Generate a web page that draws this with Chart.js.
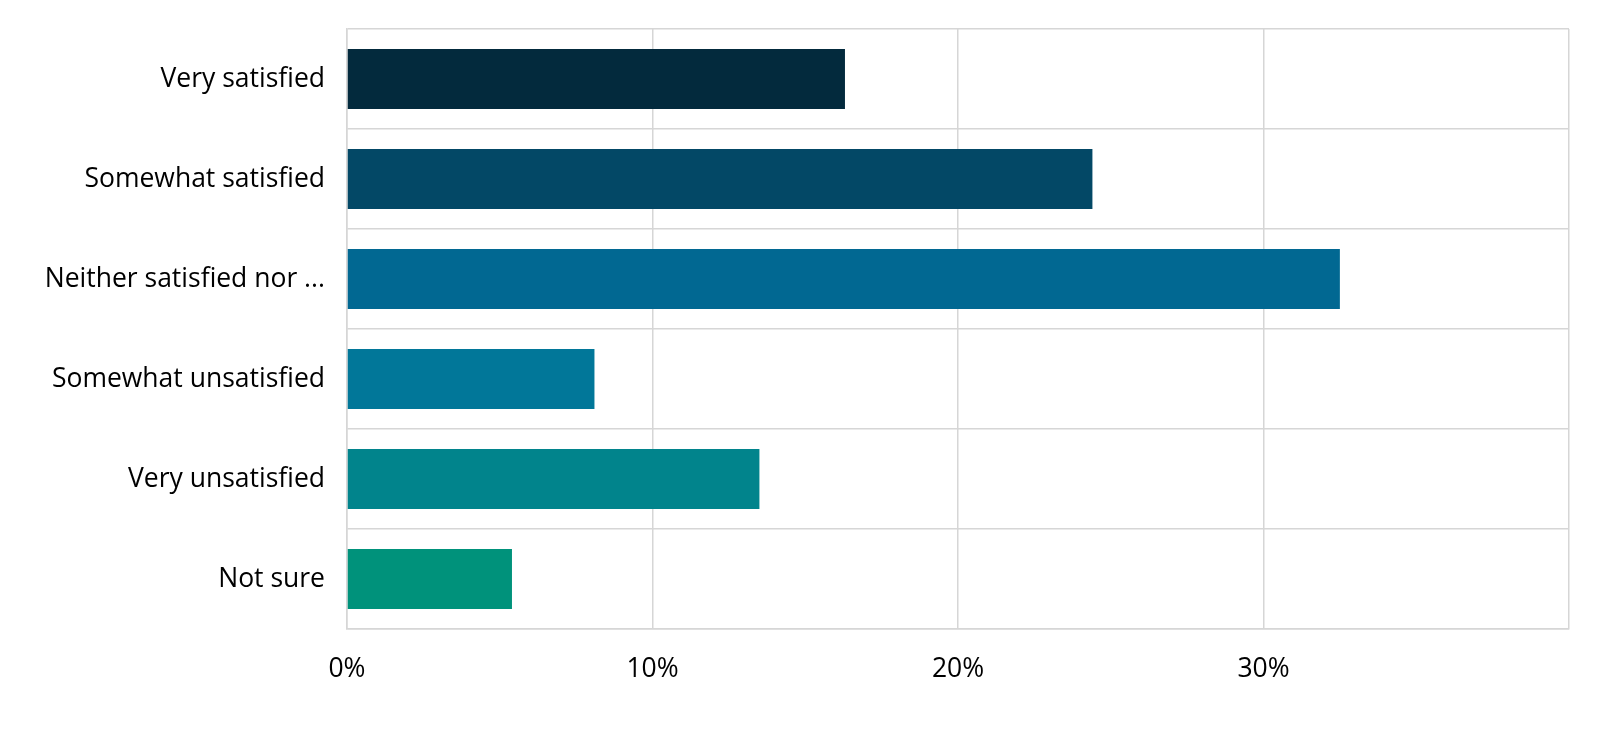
<!DOCTYPE html>
<html>
<head>
<meta charset="utf-8">
<script src="https://cdn.jsdelivr.net/npm/chart.js@4/dist/chart.umd.min.js"></script>
<style>
  html, body { margin: 0; padding: 0; background: #ffffff; }
  #wrap { width: 1600px; height: 738px; position: relative; }
</style>
</head>
<body>
<div id="wrap"><canvas id="c"></canvas></div>
<script>
const categories = ["Very satisfied", "Somewhat satisfied", "Neither satisfied nor ...", "Somewhat unsatisfied", "Very unsatisfied", "Not sure"];
const values = [16.3, 24.4, 32.5, 8.1, 13.5, 5.4];
const barColors = ["#032a3d", "#034866", "#016892", "#017799", "#01848c", "#00927b"];
const xTicks = [0, 10, 20, 30];
const xMax = 40;

const FONT = "'Open Sans', 'Noto Sans', sans-serif";
const GRID = "#d6d6d6";

new Chart(document.getElementById('c'), {
  type: 'bar',
  data: {
    labels: categories,
    datasets: [{
      data: values,
      backgroundColor: barColors,
      borderWidth: 0,
      barPercentage: 0.6,
      categoryPercentage: 1.0
    }]
  },
  options: {
    indexAxis: 'y',
    responsive: true,
    maintainAspectRatio: false,
    animation: false,
    layout: { padding: { top: 29, right: 31, left: 0, bottom: 0 } },
    plugins: { legend: { display: false }, tooltip: { enabled: false } },
    scales: {
      x: {
        min: 0,
        max: xMax,
        ticks: {
          stepSize: 10,
          padding: 25,
          color: '#000000',
          font: { family: FONT, size: 26.5 },
          callback: (v) => xTicks.includes(v) ? v + '%' : ''
        },
        grid: { color: GRID, lineWidth: 1.5, drawTicks: false },
        border: { display: true, color: GRID, width: 1.5 },
        afterFit: (s) => { s.height = 738 - 629; s.paddingLeft = 0; s.paddingRight = 0; }
      },
      y: {
        ticks: {
          padding: 22,
          color: '#000000',
          font: { family: FONT, size: 26.5 }
        },
        grid: { color: GRID, lineWidth: 1.5, drawTicks: false, offset: true },
        border: { display: true, color: GRID, width: 1.5 },
        afterFit: (s) => { s.width = 347; s.paddingTop = 0; s.paddingBottom = 0; }
      }
    }
  }
});
</script>
</body>
</html>
